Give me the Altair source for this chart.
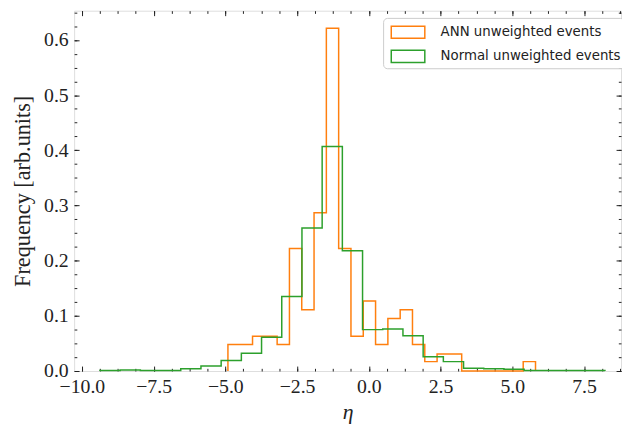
import altair as alt
import numpy as np
import pandas as pd

# ---- data (density-normalised step histograms) ----
series_names = ["ANN unweighted events", "Normal unweighted events"]
series_colors = ["#ff7f0e", "#2ca02c"]

ann_lo, ann_hi, ann_nbins = -4.91, 5.81, 25
ann_heights = [0.048, 0.048, 0.063, 0.063, 0.048, 0.222, 0.111, 0.287, 0.621, 0.222,
               0.063, 0.127, 0.048, 0.095, 0.111, 0.048, 0.017, 0.031, 0.031, 0.0,
               0.0, 0.0, 0.0, 0.0, 0.017]

norm_lo, norm_hi, norm_nbins = -9.37, 8.23, 25
norm_heights = [0.001, 0.002, 0.001, 0.001, 0.004, 0.009, 0.019, 0.032, 0.061, 0.135,
                0.259, 0.407, 0.218, 0.075, 0.076, 0.064, 0.026, 0.017, 0.005, 0.004,
                0.003, 0.001, 0.001, 0.001, 0.001]

x_major = [-10.0, -7.5, -5.0, -2.5, 0.0, 2.5, 5.0, 7.5]
x_minor = [-10.0 + 0.625 * i for i in range(31)]
y_major = [0.0, 0.1, 0.2, 0.3, 0.4, 0.5, 0.6]
y_minor = [0.025 * i for i in range(27)]

x_domain = [-10.27, 8.79]
y_domain = [0.0, 0.653]


def step_rows(lo, hi, n, heights, name):
    edges = np.linspace(lo, hi, n + 1)
    xs = [edges[0]] + list(edges[:n]) + [edges[n], edges[n]]
    ys = [0.0] + list(heights) + [heights[-1], 0.0]
    return pd.DataFrame({"x": xs, "y": ys, "series": name, "order": range(len(xs))})


df = pd.concat([
    step_rows(ann_lo, ann_hi, ann_nbins, ann_heights, series_names[0]),
    step_rows(norm_lo, norm_hi, norm_nbins, norm_heights, series_names[1]),
], ignore_index=True)

W, H = 554, 365
SERIF = "Liberation Serif"
SANS = "DejaVu Sans"
INK = "#222222"

xs = alt.Scale(domain=x_domain, nice=False, zero=False)
ys = alt.Scale(domain=y_domain, nice=False, zero=False)


def tick_axis(orient, values, size, offset):
    return alt.Axis(orient=orient, values=values, tickSize=size, offset=offset,
                    labels=False, domain=False, grid=False, title=None,
                    ticks=True, tickColor=INK, tickWidth=1)


main = alt.Chart(df).mark_line(strokeWidth=1.5, interpolate="step-after").encode(
    x=alt.X("x:Q", scale=xs, axis=alt.Axis(
        orient="bottom", values=x_major, format=".1f", ticks=False, domain=False,
        grid=False, labelFont=SERIF, labelFontSize=20, labelColor=INK,
        labelPadding=6, title="η", titleFont=SERIF, titleFontStyle="italic",
        titleFontWeight="normal", titleFontSize=22, titleColor=INK,
        titlePadding=5)),
    y=alt.Y("y:Q", scale=ys, axis=alt.Axis(
        orient="left", values=y_major, format=".1f", ticks=False, domain=False,
        grid=False, labelFont=SERIF, labelFontSize=20, labelColor=INK,
        labelPadding=6, title="Frequency [arb.units]", titleFont=SERIF,
        titleFontWeight="normal", titleFontSize=22.5, titleColor=INK,
        titlePadding=9)),
    color=alt.Color("series:N", scale=alt.Scale(domain=series_names, range=series_colors),
                    legend=alt.Legend(
                        title=None, orient="none", legendX=313, legendY=7.3,
                        symbolType="M-1.545,-0.56H1.545V0.56H-1.545Z", symbolSize=484,
                        symbolStrokeWidth=1.5, symbolFillColor="transparent",
                        symbolOffset=10.75, labelOffset=21, labelLimit=0,
                        labelFont=SANS, labelFontSize=13.5, labelColor=INK,
                        padding=2.5, rowPadding=2.5,
                        strokeColor="#cccccc", cornerRadius=4, fillColor="white")),
    order="order:Q",
)


def ghost(xaxis, yaxis):
    return alt.Chart(df).mark_line(opacity=0).encode(
        x=alt.X("x:Q", scale=xs, axis=xaxis),
        y=alt.Y("y:Q", scale=ys, axis=yaxis),
        order="order:Q",
    )


layers = [
    main,
    ghost(tick_axis("top", x_major, 5, -H), tick_axis("right", y_major, 5, -W)),
    ghost(tick_axis("top", x_minor, 2.7, -H), tick_axis("right", y_minor, 2.7, -W)),
    ghost(tick_axis("bottom", x_major, 5, -H), tick_axis("left", y_major, 5, -W)),
    ghost(tick_axis("bottom", x_minor, 2.7, -H), tick_axis("left", y_minor, 2.7, -W)),
]

chart = alt.layer(*layers).resolve_axis(x="independent", y="independent").properties(
    width=W, height=H,
    autosize=alt.AutoSizeParams(type="none"),
    padding={"left": 67, "top": 0, "right": 1, "bottom": 55},
).configure_view(stroke=INK, strokeWidth=1).configure(background="white")

chart.save("out.html", embed_options={"renderer": "svg", "actions": False})
